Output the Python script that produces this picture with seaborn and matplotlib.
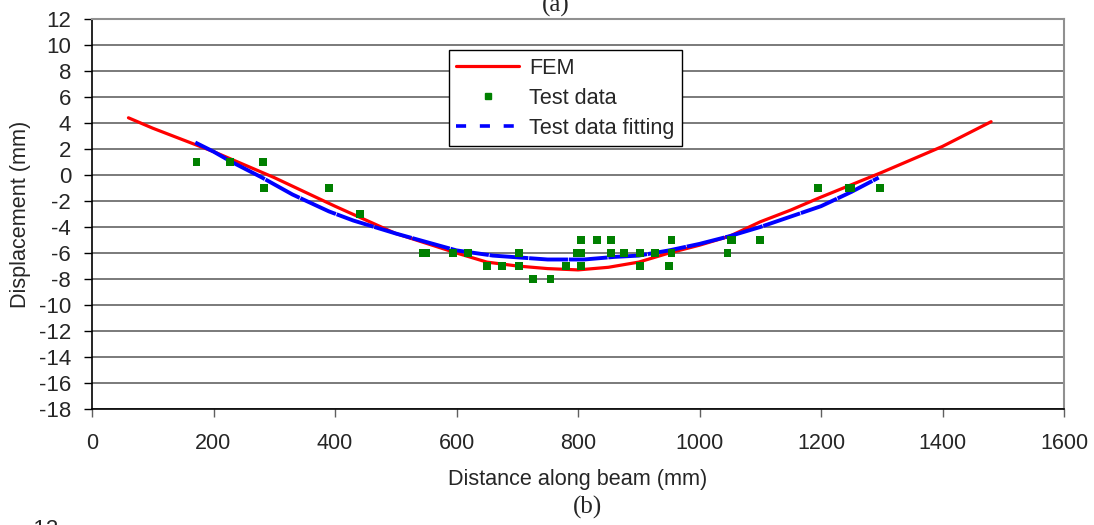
import numpy as np
import pandas as pd
import matplotlib
matplotlib.use("Agg")
import matplotlib.pyplot as plt
from matplotlib.lines import Line2D
import seaborn as sns

# FEM curve (mm)
fem_x = [60, 100, 200, 300, 400, 500, 600, 650, 700, 750, 800, 850, 900, 950,
         1000, 1050, 1100, 1150, 1200, 1300, 1400, 1480]
fem_y = [4.4, 3.6, 1.8, -0.2, -2.4, -4.5, -6.0, -6.7, -7.0, -7.2, -7.3, -7.1,
         -6.7, -6.0, -5.4, -4.7, -3.6, -2.7, -1.7, 0.2, 2.2, 4.1]

# measured points
test_x = [172, 227, 281, 283, 390, 441, 545, 550, 594, 619, 650, 675, 703, 703,
          726, 755, 780, 798, 805, 805, 805, 831, 854, 854, 876, 902, 902, 927,
          950, 954, 954, 1046, 1051, 1053, 1100, 1195, 1245, 1250, 1297]
test_y = [1, 1, 1, -1, -1, -3, -6, -6, -6, -6, -7, -7, -6, -7,
          -8, -8, -7, -6, -6, -5, -7, -5, -5, -6, -6, -6, -7, -6,
          -7, -5, -6, -6, -5, -5, -5, -1, -1, -1, -1]

# fitted curve through test data
fit_x = [170, 200, 230, 280, 330, 390, 430, 500, 600, 660, 750, 810, 860, 900,
         950, 1000, 1050, 1100, 1150, 1200, 1250, 1295]
fit_y = [2.5, 1.8, 1.0, -0.2, -1.5, -2.8, -3.5, -4.5, -5.8, -6.2, -6.5, -6.5,
         -6.3, -6.2, -5.8, -5.3, -4.7, -4.0, -3.2, -2.4, -1.3, -0.2]

x_ticks = list(range(0, 1601, 200))
y_ticks = list(range(-18, 13, 2))

sns.set_style("white")
plt.rcParams["font.family"] = ["Liberation Sans", "DejaVu Sans"]
plt.rcParams["axes.unicode_minus"] = False

fem = pd.DataFrame({"x": fem_x, "y": fem_y})
test = pd.DataFrame({"x": test_x, "y": test_y})
fit = pd.DataFrame({"x": fit_x, "y": fit_y})

fig = plt.figure(figsize=(10.94, 5.25), dpi=100)
ax = fig.add_axes([92 / 1094, 116 / 525, 972 / 1094, 390 / 525])

for yv in y_ticks:
    ax.axhline(yv, color="#707070", lw=1.3, zorder=0)

sns.lineplot(data=fem, x="x", y="y", sort=False, color="red", lw=2.3,
             ax=ax, zorder=3)
sns.scatterplot(data=test, x="x", y="y", marker="s", color="green", s=30,
                edgecolor="none", ax=ax, zorder=4)
sns.lineplot(data=fit, x="x", y="y", sort=False, color="blue", lw=2.8,
             ax=ax, zorder=3)
ax.lines[-1].set_dashes((10, 0.2))

ax.set_xlim(0, 1600)
ax.set_ylim(-18, 12)
ax.set_xticks(x_ticks)
ax.set_yticks(y_ticks)
ax.tick_params(axis="y", direction="out", length=6, width=1, pad=9,
               labelsize=16, color="black", left=True)
ax.tick_params(axis="x", direction="out", length=6, width=1, pad=11,
               labelsize=15.5, color="#606060", bottom=True)

for side in ["top", "right"]:
    ax.spines[side].set_color("#909090")
    ax.spines[side].set_linewidth(1.5)
for side in ["left", "bottom"]:
    ax.spines[side].set_color("black")
    ax.spines[side].set_linewidth(1.2)

ax.set_xlabel("Distance along beam (mm)", fontsize=15.6, labelpad=11)
ax.set_ylabel("Displacement (mm)", fontsize=15.6, labelpad=6)

handles = [
    Line2D([], [], color="red", lw=2.3),
    Line2D([], [], color="green", marker="s", ms=4, ls="none"),
    Line2D([], [], color="blue", lw=2.6, dashes=(2.8, 3.8)),
]
labels = ["FEM", "Test data", "Test data fitting"]
leg = ax.legend(handles, labels, loc="upper left", bbox_to_anchor=(0.367, 0.9205),
                borderaxespad=0, fontsize=15.6, frameon=True, fancybox=False,
                edgecolor="black", framealpha=1, borderpad=0.35, handlelength=2.9,
                handletextpad=0.45, labelspacing=0.42)
leg.get_frame().set_linewidth(1.0)

fig.text(0.508, 1.012, "(a)", fontsize=18, family="Liberation Serif",
         ha="center", va="top")
fig.text(587 / 1094, 1 - 507 / 525, "(b)", fontsize=18, family="Liberation Serif",
         ha="center", va="center")
fig.text(42 / 1094, -0.028, "-12", fontsize=16, ha="center", va="bottom")

fig.savefig("out.png", dpi=100)
